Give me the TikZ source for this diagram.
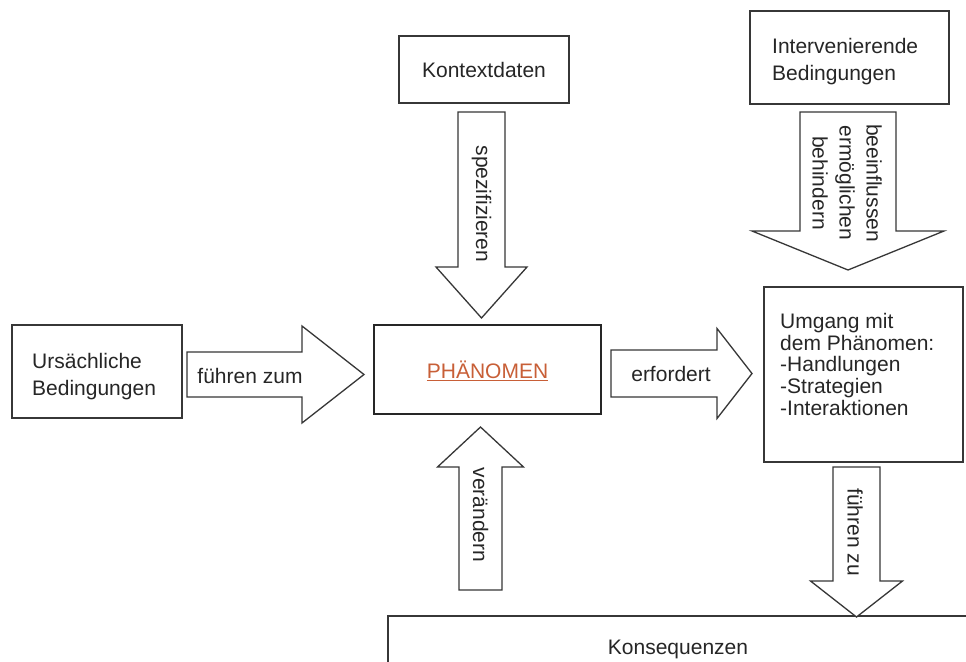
\documentclass[tikz,border=0pt]{standalone}
\usepackage{fontspec}
\setmainfont{Liberation Sans}
\usetikzlibrary{calc}
\definecolor{linegray}{RGB}{55,55,55}
\definecolor{phencol}{RGB}{200,95,55}
% #1 tail, #2 tip, #3 shaft half width, #4 head half width, #5 head length, #6 prefix
\newcommand\blockarrow[6]{%
  \coordinate (#6b) at ($(#2)!#5!(#1)$);
  \draw[barrow] ($(#1)!#3!90:(#2)$) -- ($(#6b)!#3!90:(#2)$) -- ($(#6b)!#4!90:(#2)$) -- (#2)
    -- ($(#6b)!#4!-90:(#2)$) -- ($(#6b)!#3!-90:(#2)$) -- ($(#1)!#3!-90:(#2)$) -- cycle;
}
\begin{document}
\begin{tikzpicture}[x=1pt,y=-1pt,
  font=\fontsize{21}{27}\selectfont,
  box/.style={draw=linegray, line width=1.3pt, rectangle, inner sep=0pt},
  barrow/.style={draw=linegray, line width=1.3pt, fill=white, line join=miter},
  txt/.style={inner sep=0pt, text=black!85}]
\useasboundingbox (0,0) rectangle (966,661);
\clip (0,0) rectangle (966,661);
\fill[white] (0,0) rectangle (966,661);

% boxes
\node[box, minimum width=170pt, minimum height=67pt] (ctx) at (484,69.5) {};
\node[txt] (ctxt) at (484,70) {Kontextdaten};

\node[box, minimum width=199pt, minimum height=93pt] (intv) at (849.5,57.5) {};
\node[txt, anchor=north west, align=left] (intvt) at (772,38) {Intervenierende\\Bedingungen};

\node[box, minimum width=170pt, minimum height=93pt] (urs) at (97,371.5) {};
\node[txt, anchor=north west, align=left] (urst) at (32,353) {Ursächliche\\Bedingungen};

\node[box, line width=2.6pt, draw=black!85, minimum width=227pt, minimum height=89pt] (phen) at (487.5,369.5) {};
\node[txt, text=phencol] (phent) at (487.5,371) {\underline{PHÄNOMEN}};

\node[box, minimum width=199pt, minimum height=175pt] (umg) at (863.5,374.5) {};
\node[txt, anchor=north west, align=left, font=\fontsize{21}{21.75}\selectfont] (umgt) at (780,313)
  {Umgang mit\\dem Phänomen:\\-Handlungen\\-Strategien\\-Interaktionen};

\node[box, minimum width=580pt, minimum height=66pt] (kons) at (678,649) {};
\node[txt] (konst) at (678,649) {Konsequenzen};

% block arrows
\coordinate (spezT) at (481.5,112);  \coordinate (spezH) at (481.5,318);
\blockarrow{spezT}{spezH}{23.5pt}{45.5pt}{51pt}{spez}
\node[txt, rotate=-90] (spezl) at (481.5,204) {spezifizieren};

\coordinate (intvT) at (848,112);  \coordinate (intvH) at (848,270);
\blockarrow{intvT}{intvH}{48pt}{96pt}{39pt}{intva}
\node[txt, rotate=-90, align=center] (intvl) at (847,183) {beeinflussen\\ermöglichen\\behindern};

\coordinate (fzT) at (187,374.5);  \coordinate (fzH) at (364,374.5);
\blockarrow{fzT}{fzH}{22.5pt}{48.5pt}{62pt}{fz}
\node[txt] (fzl) at (250,376) {führen zum};

\coordinate (erfT) at (611,373.5);  \coordinate (erfH) at (752,373.5);
\blockarrow{erfT}{erfH}{23.5pt}{45pt}{35pt}{erf}
\node[txt] (erfl) at (671,374) {erfordert};

\coordinate (verT) at (480.5,590);  \coordinate (verH) at (480.5,427);
\blockarrow{verT}{verH}{21.5pt}{43pt}{40pt}{ver}
\node[txt, rotate=-90] (verl) at (480.5,515) {verändern};

\coordinate (fzuT) at (856.5,467);  \coordinate (fzuH) at (856.5,617);
\blockarrow{fzuT}{fzuH}{23.5pt}{46pt}{36pt}{fzu}
\node[txt, rotate=-90] (fzul) at (855,532) {führen zu};
\end{tikzpicture}
\end{document}
